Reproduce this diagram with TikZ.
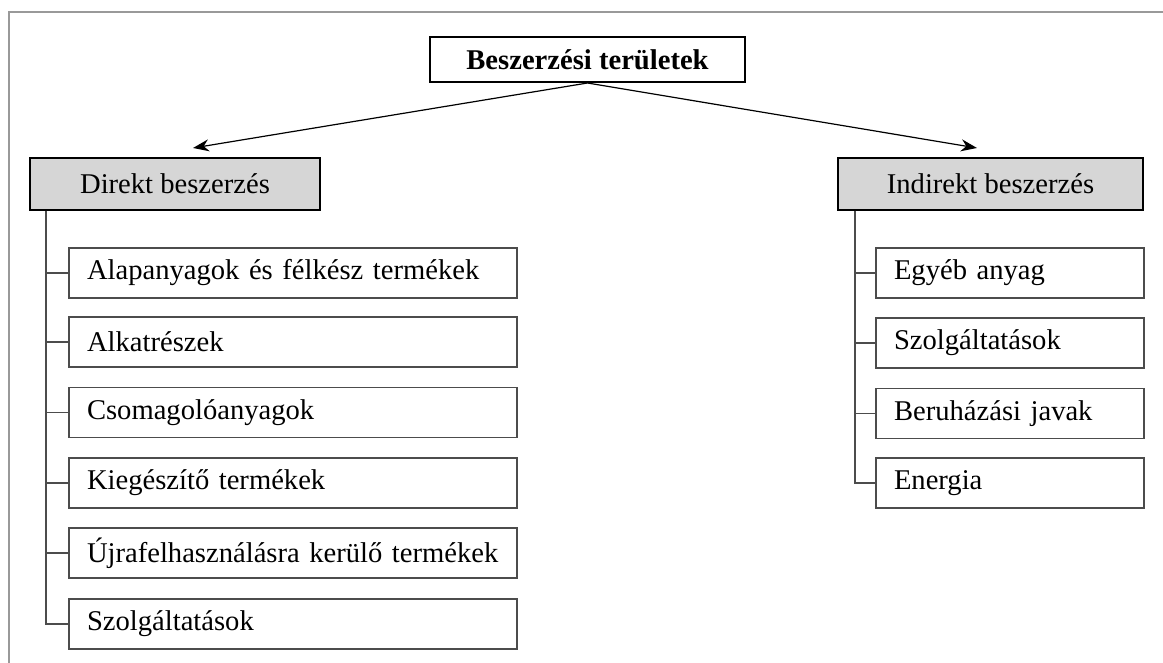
\documentclass[tikz,border=0pt]{standalone}
\usepackage{fontspec}
\setmainfont{Liberation Serif}
\usetikzlibrary{arrows.meta}

\begin{document}
\begin{tikzpicture}[x=0.5pt,y=-0.5pt,font=\fontsize{14.3}{16}\selectfont]
	\tikzset{
		areabox/.style={draw=black,line width=1pt,minimum width=157.5pt,minimum height=22.5pt,inner sep=0pt,font=\fontsize{14.3}{16}\selectfont\bfseries},
		groupbox/.style={draw=black,line width=1pt,fill=black!16,minimum height=26pt,inner sep=0pt},
		itembox/.style={draw=black!70,line width=0.75pt,minimum height=25pt,inner xsep=9pt,inner ysep=0pt,align=left},
		treeline/.style={draw=black!70,line width=0.75pt},
		frameline/.style={draw=black!40,line width=1pt}
	}
	\useasboundingbox (0,0) rectangle (1163,663);
	% frame
	\draw[frameline] (9,663) -- (9,12) -- (1163,12);

	% top level
	\node[areabox] (Areas) at (587.5,59.5) {Beszerzési területek};
	\node[groupbox,minimum width=145pt] (DirectProc) at (175,184) {Direkt beszerzés};
	\node[groupbox,minimum width=152.5pt] (IndirectProc) at (990.5,184) {Indirekt beszerzés};
	\coordinate (DirectTip) at (193,148);
	\coordinate (IndirectTip) at (977,148);
	\draw[-{Stealth[length=8pt,width=6pt]},line width=0.6pt] (Areas.south) to (DirectTip);
	\draw[-{Stealth[length=8pt,width=6pt]},line width=0.6pt] (Areas.south) to (IndirectTip);

	% direct items
	\node[itembox,text width=206pt] (RawMaterials) at (293,273) {Alapanyagok és félkész termékek};
	\node[itembox,text width=206pt] (Components) at (293,342) {Alkatrészek};
	\node[itembox,text width=206pt] (Packaging) at (293,412.5) {Csomagolóanyagok};
	\node[itembox,text width=206pt] (Supplements) at (293,483) {Kiegészítő termékek};
	\node[itembox,text width=206pt] (Recycled) at (293,553) {Újrafelhasználásra kerülő termékek};
	\node[itembox,text width=206pt] (DirServices) at (293,624) {Szolgáltatások};
	\coordinate (DirectTrunk) at ([xshift=8.5pt]DirectProc.south west);
	\foreach \item in {RawMaterials,Components,Packaging,Supplements,Recycled,DirServices}
		\draw[treeline] (DirectTrunk) |- (\item.west);

	% indirect items
	\node[itembox,text width=116pt] (OtherMaterial) at (1010,273) {Egyéb anyag};
	\node[itembox,text width=116pt] (IndServices) at (1010,343) {Szolgáltatások};
	\node[itembox,text width=116pt] (Investment) at (1010,413.5) {Beruházási javak};
	\node[itembox,text width=116pt] (Energy) at (1010,483) {Energia};
	\coordinate (IndirectTrunk) at ([xshift=9pt]IndirectProc.south west);
	\foreach \item in {OtherMaterial,IndServices,Investment,Energy}
		\draw[treeline] (IndirectTrunk) |- (\item.west);
\end{tikzpicture}
\end{document}
